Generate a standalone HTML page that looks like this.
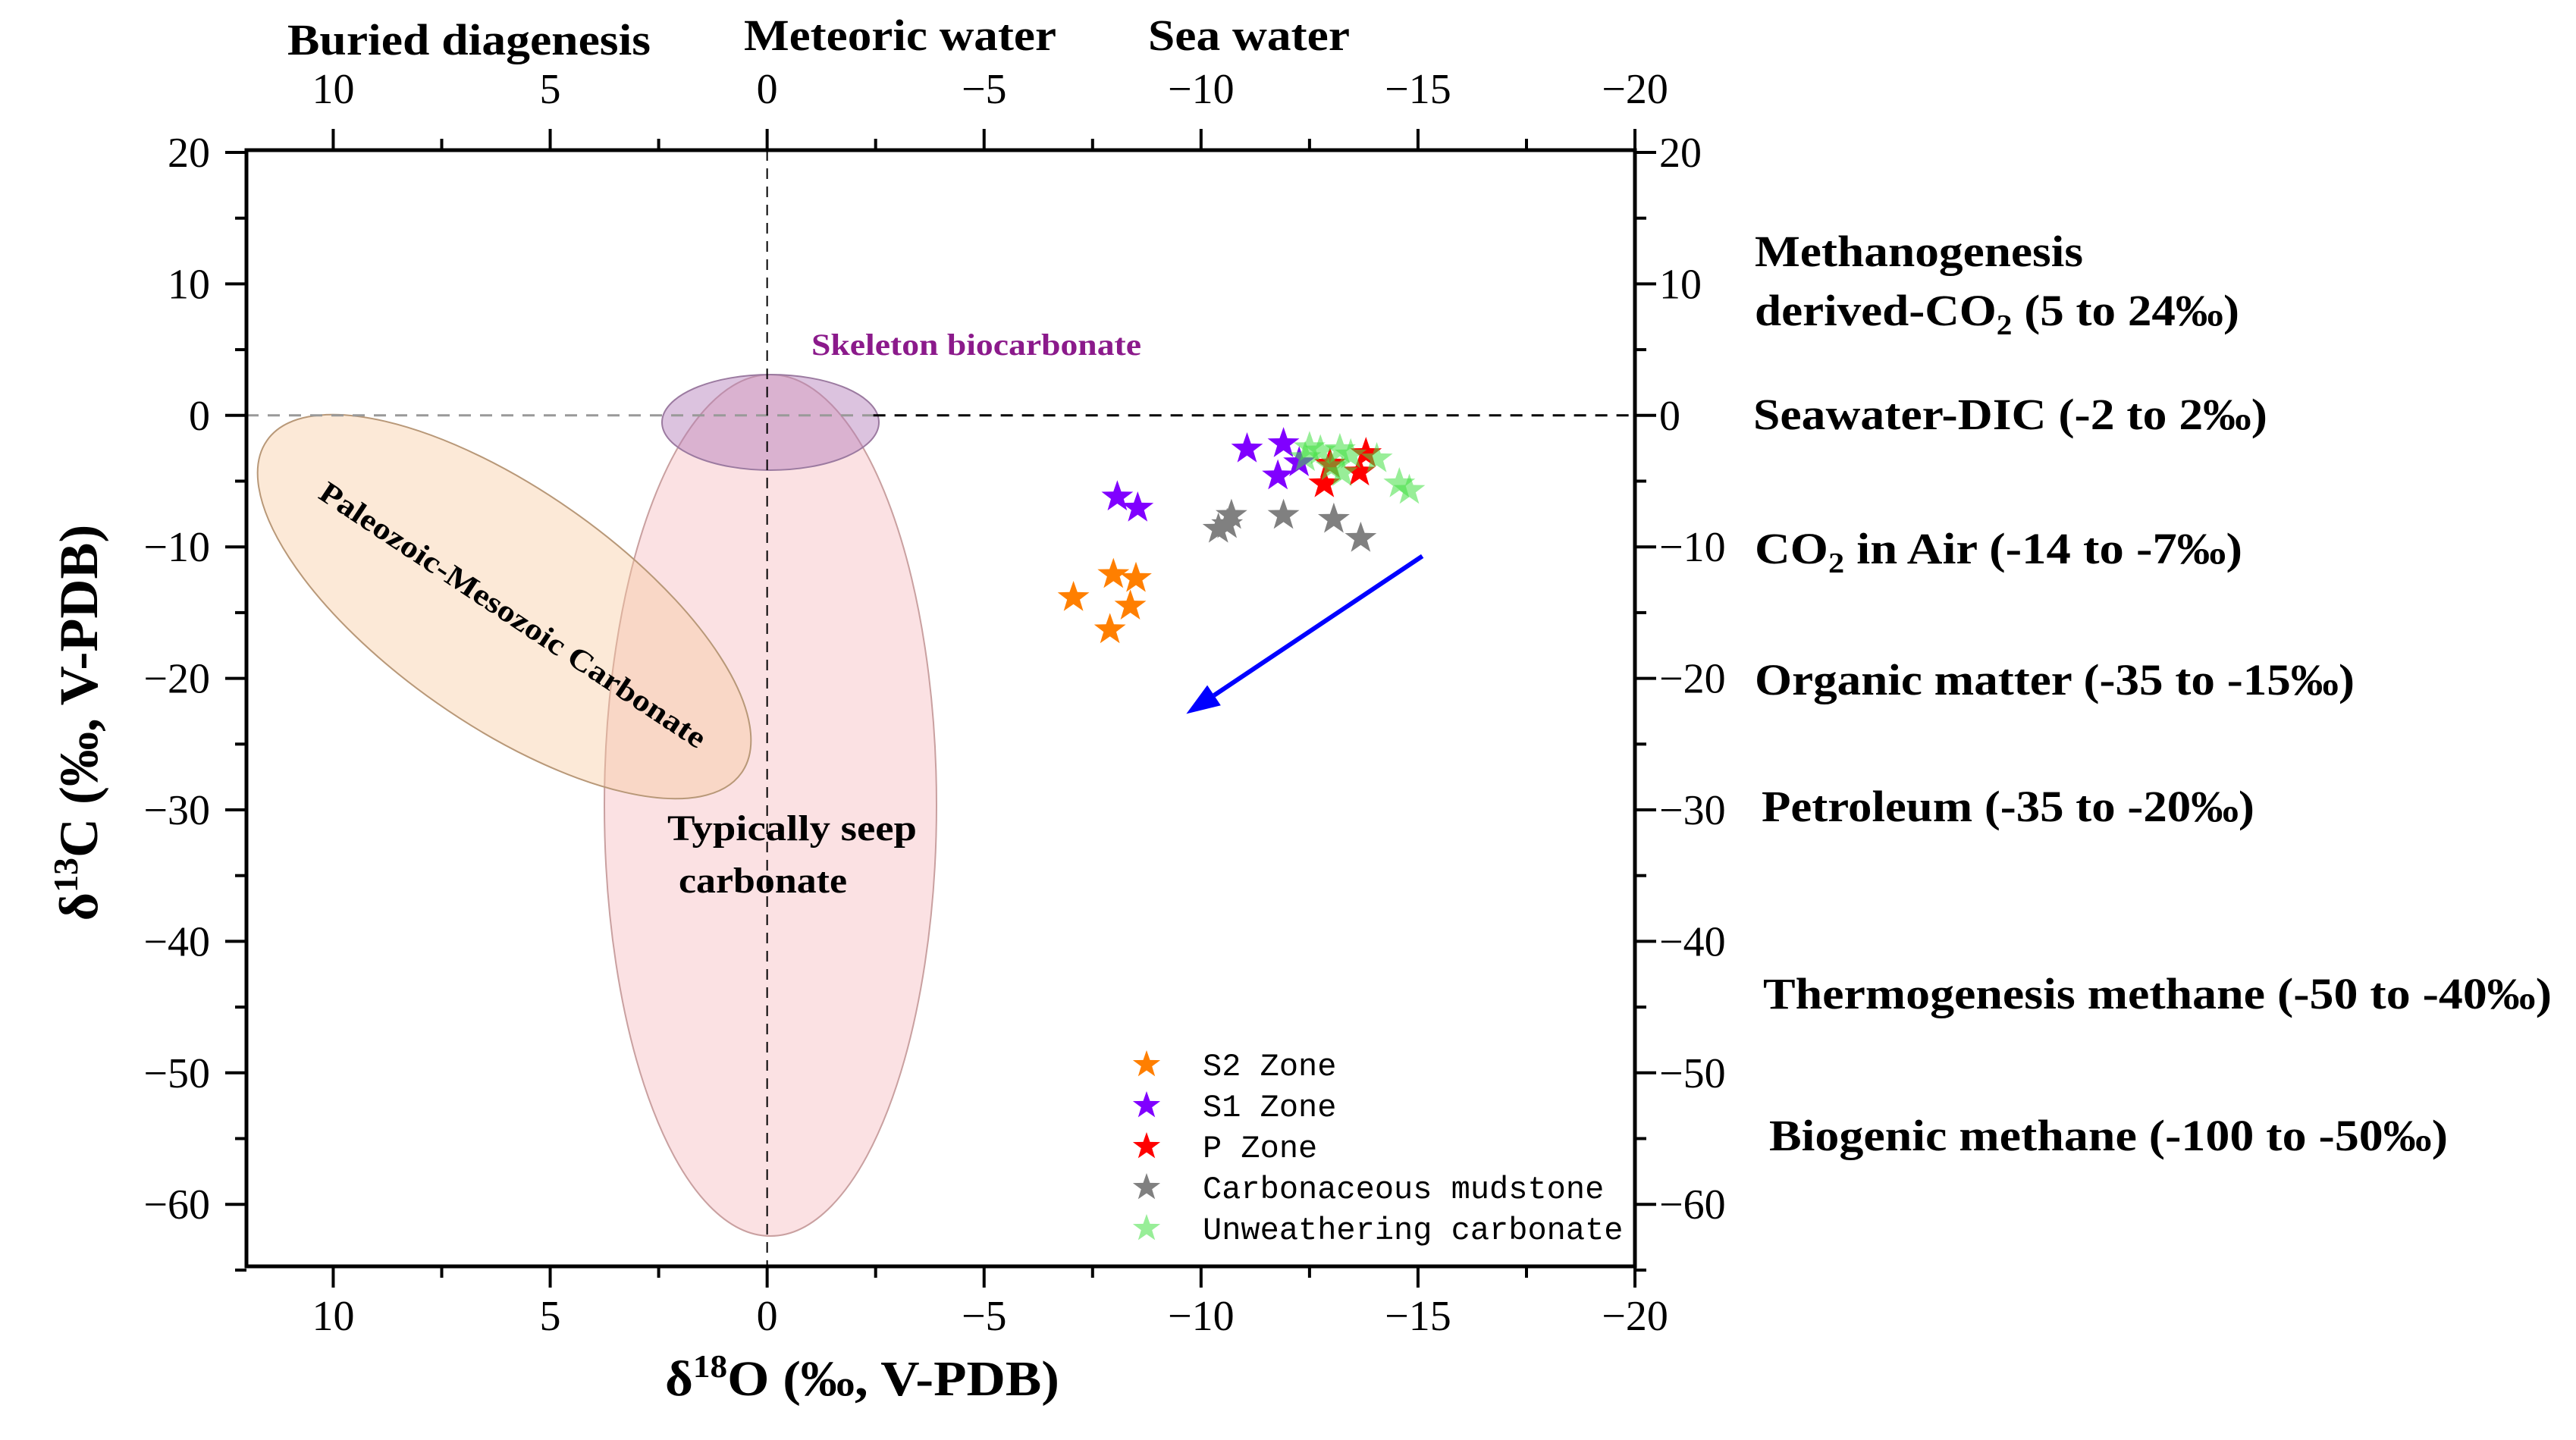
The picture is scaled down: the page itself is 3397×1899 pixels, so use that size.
<!DOCTYPE html>
<html><head><meta charset="utf-8"><style>
html,body{margin:0;padding:0;background:#fff;}
svg{display:block;font-family:"Liberation Serif",serif;}
</style></head><body>
<svg id="chart" width="3397" height="1899" viewBox="0 0 3397 1899" xmlns="http://www.w3.org/2000/svg">
<g id="ells">
 <ellipse cx="1016" cy="1062" rx="219" ry="568" fill="#f8c4c8" fill-opacity="0.5" stroke="#c9a0a0" stroke-width="2"/>
 <ellipse cx="665" cy="800" rx="382" ry="155" transform="rotate(35 665 800)" fill="#f7c99a" fill-opacity="0.4" stroke="#b89878" stroke-width="2"/>
 <ellipse cx="1016" cy="557" rx="143" ry="63" fill="#b27ab8" fill-opacity="0.45" stroke="#9b7aa0" stroke-width="2"/>
</g>
<g id="dash"></g>
<g id="axes"></g>
<g id="marks"></g>
<g id="labels" font-weight="bold" lengthAdjust="spacingAndGlyphs">
 <text x="379" y="72" font-size="58" textLength="479" lengthAdjust="spacingAndGlyphs">Buried diagenesis</text>
 <text x="981" y="66" font-size="58" textLength="412" lengthAdjust="spacingAndGlyphs">Meteoric water</text>
 <text x="1514" y="66" font-size="58" textLength="266" lengthAdjust="spacingAndGlyphs">Sea water</text>
 <text x="1070" y="468" font-size="40" fill="#8b1a8b" textLength="435" lengthAdjust="spacingAndGlyphs">Skeleton biocarbonate</text>
 <text x="880" y="1108" font-size="48" textLength="329" lengthAdjust="spacingAndGlyphs">Typically seep</text>
 <text x="895" y="1177" font-size="48" textLength="222" lengthAdjust="spacingAndGlyphs">carbonate</text>
 <text x="0" y="0" font-size="40" text-anchor="middle" transform="translate(669 822) rotate(33.5)" textLength="602" lengthAdjust="spacingAndGlyphs">Paleozoic-Mesozoic Carbonate</text>
 <text x="2314" y="351" font-size="58" textLength="433" lengthAdjust="spacingAndGlyphs">Methanogenesis</text>
 <text x="2314" y="429" font-size="58" textLength="639" lengthAdjust="spacingAndGlyphs">derived-CO<tspan font-size="38" dy="12">2</tspan><tspan dy="-12"> (5 to 24‰)</tspan></text>
 <text x="2312" y="566" font-size="58" textLength="678" lengthAdjust="spacingAndGlyphs">Seawater-DIC (-2 to 2‰)</text>
 <text x="2314" y="743" font-size="58" textLength="643" lengthAdjust="spacingAndGlyphs">CO<tspan font-size="38" dy="12">2</tspan><tspan dy="-12">  in Air (-14 to -7‰)</tspan></text>
 <text x="2314" y="916" font-size="58" textLength="791" lengthAdjust="spacingAndGlyphs">Organic matter (-35 to -15‰)</text>
 <text x="2323" y="1083" font-size="58" textLength="650" lengthAdjust="spacingAndGlyphs">Petroleum (-35 to -20‰)</text>
 <text x="2325" y="1330" font-size="58" textLength="1040" lengthAdjust="spacingAndGlyphs">Thermogenesis methane (-50 to -40‰)</text>
 <text x="2333" y="1517" font-size="58" textLength="895" lengthAdjust="spacingAndGlyphs">Biogenic methane (-100 to -50‰)</text>
 <text x="877" y="1840" font-size="66" textLength="520" lengthAdjust="spacingAndGlyphs">δ<tspan font-size="42" dy="-24">18</tspan><tspan dy="24">O (‰, V-PDB)</tspan></text>
 <text x="0" y="0" font-size="72" text-anchor="middle" transform="translate(128 953) rotate(-90)">δ<tspan font-size="46" dy="-26">13</tspan><tspan dy="26">C (‰, V-PDB)</tspan></text>
</g>
<g id="legend" font-family="Liberation Mono, monospace" font-size="42"></g>
</svg>
<script>
const xTicks=[10,5,0,-5,-10,-15,-20];
const yTicks=[20,10,0,-10,-20,-30,-40,-50,-60];
const s2X=[-7.06,-7.98,-8.5,-8.37,-7.9];
const s2Y=[-13.85,-12.1,-12.4,-14.5,-16.3];
const s1X=[-8.07,-8.54,-11.06,-11.9,-11.77,-12.26];
const s1Y=[-6.2,-7.05,-2.55,-2.15,-4.6,-3.6];
const pX=[-12.84,-12.97,-13.65,-13.8];
const pY=[-5.2,-3.7,-4.3,-2.9];
const cmX=[-10.4,-10.7,-10.6,-11.9,-13.06,-13.68];
const cmY=[-8.65,-7.6,-8.3,-7.6,-7.9,-9.35];
const ucX=[-12.5,-12.75,-13.2,-13.45,-13.25,-14.05,-14.57,-14.8,-12.4,-13.0];
const ucY=[-2.45,-2.7,-2.6,-3.0,-4.35,-3.3,-5.2,-5.7,-3.2,-3.9];
const seriesNames=["S2 Zone","S1 Zone","P Zone","Carbonaceous mudstone","Unweathering carbonate"];
const arrowX=[-15.1,-9.66];
const arrowY=[-10.7,-22.7];

const L=325,R=2156,T=198,B=1670;
const X=v=>L+(12-v)*57.22;
const Y=v=>201+(20-v)*17.34;
const NS="http://www.w3.org/2000/svg";
function mk(tag,parent,attrs){const e=document.createElementNS(NS,tag);for(const k in attrs)e.setAttribute(k,attrs[k]);parent.appendChild(e);return e;}
const axes=document.getElementById('axes'),dash=document.getElementById('dash'),marks=document.getElementById('marks'),legend=document.getElementById('legend');

let l1=mk('line',dash,{x1:L,x2:X(0)+140,y1:Y(0),y2:Y(0),stroke:'#999','stroke-width':3,'stroke-dasharray':'16 12'});


let l1b=mk('line',dash,{x1:X(0)+140,x2:2175,y1:Y(0),y2:Y(0),stroke:'#000','stroke-width':3,'stroke-dasharray':'16 12'});


let l2=mk('line',dash,{x1:X(0),x2:X(0),y1:T,y2:B,stroke:'#000','stroke-width':2,'stroke-dasharray':'14 10'});



let fr=mk('path',axes,{d:`M${L} ${T}H${R}V${B}H${L}Z`,fill:'none',stroke:'#000','stroke-width':5});



for(let v=12.5;v>=-20;v-=2.5){
 if(v>12)continue;
 const major=Math.abs(v%5)<1e-6, len=major?28:15, x=X(v);
 mk('line',axes,{x1:x,x2:x,y1:T,y2:T-len,stroke:'#000','stroke-width':4});
 mk('line',axes,{x1:x,x2:x,y1:B,y2:B+len,stroke:'#000','stroke-width':4});
}
xTicks.forEach(v=>{
 const s=(v<0?'−':'')+Math.abs(v);
 let t=mk('text',axes,{x:X(v),y:136,'font-size':56,'text-anchor':'middle'});t.textContent=s;
 
 
 let b=mk('text',axes,{x:X(v),y:1754,'font-size':56,'text-anchor':'middle'});b.textContent=s;
 
 
});
for(let v=20;v>=-65;v-=5){
 const major=v%10===0,len=major?28:15,y=Y(v);
 mk('line',axes,{x1:L,x2:L-len,y1:y,y2:y,stroke:'#000','stroke-width':4});
 mk('line',axes,{x1:R,x2:R+len,y1:y,y2:y,stroke:'#000','stroke-width':4});
}
yTicks.forEach(v=>{
 const s=(v<0?'−':'')+Math.abs(v);
 let t=mk('text',axes,{x:277,y:Y(v)+19,'font-size':56,'text-anchor':'end'});t.textContent=s;
 
 
 let r=mk('text',axes,{x:2188,y:Y(v)+19,'font-size':56});r.textContent=s;
 
 
});

function starPath(cx,cy,r){let d='';for(let i=0;i<10;i++){const rr=i%2?r*0.4:r,a=-Math.PI/2+i*Math.PI/5;d+=(i?'L':'M')+(cx+rr*Math.cos(a)).toFixed(1)+' '+(cy+rr*Math.sin(a)).toFixed(1);}return d+'Z';}
const colors=['#ff7f00','#8000ff','#ff0000','#808080','#44e044'];
const ops=[1,1,1,1,0.55];
const xs=[s2X,s1X,pX,cmX,ucX],ys=[s2Y,s1Y,pY,cmY,ucY];
xs.forEach((arr,si)=>{
 arr.forEach((xv,i)=>{
  const p=mk('path',marks,{d:starPath(X(xv),Y(ys[si][i]),22),fill:colors[si],'fill-opacity':ops[si]});
  
  
 });
});
const ax1=X(arrowX[0]),ay1=Y(arrowY[0]),ax2=X(arrowX[1]),ay2=Y(arrowY[1]);
const ang=Math.atan2(ay2-ay1,ax2-ax1);
const bx=ax2-44*Math.cos(ang),by=ay2-44*Math.sin(ang);
let al=mk('line',marks,{x1:ax1,y1:ay1,x2:bx,y2:by,stroke:'#0000ff','stroke-width':6});


const px=-Math.sin(ang)*16,py=Math.cos(ang)*16;
let ah=mk('path',marks,{d:`M${ax2} ${ay2}L${bx+px} ${by+py}L${bx-px} ${by-py}Z`,fill:'#0000ff'});



seriesNames.forEach((n,i)=>{
 const y=1404+i*54;
 const s=mk('path',legend,{d:starPath(1512,y,19),fill:colors[i],'fill-opacity':ops[i]});
 
 
 const t=mk('text',legend,{x:1586,y:y+14});t.textContent=n;
 
 
});
</script>
</body></html>
